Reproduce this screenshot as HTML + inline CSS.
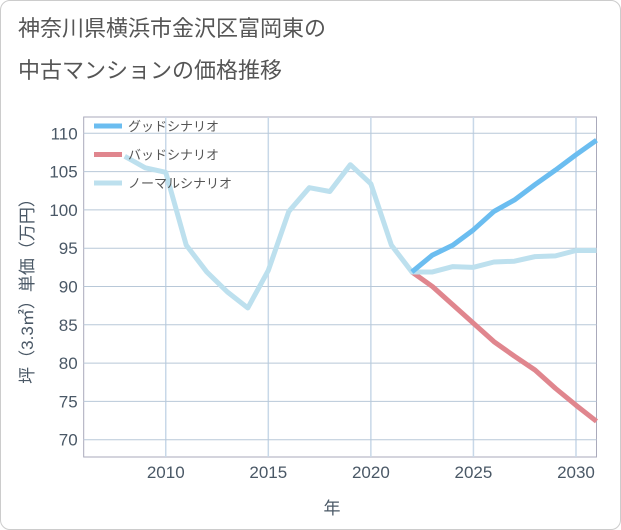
<!DOCTYPE html>
<html><head><meta charset="utf-8"><style>
body{margin:0;background:#fff;font-family:"Liberation Sans","Noto Sans CJK JP",sans-serif;}
#wrap{position:relative;width:619px;height:528px;border:1px solid #ccc;border-radius:10px;overflow:hidden;}
</style></head><body>
<div id="wrap">
<svg id="chart" width="621" height="530" style="position:absolute;left:-1px;top:-1px">
<text x="18" y="36" font-size="22" fill="#555">神奈川県横浜市金沢区富岡東の</text>
<text x="18" y="78" font-size="22" fill="#555">中古マンションの価格推移</text>
<g id="grid"></g><g id="series"></g>
<text x="332" y="514" font-size="17" fill="#4a5866" text-anchor="middle">年</text>
<text transform="translate(33,287) rotate(-90)" font-size="17" fill="#4a5866" text-anchor="middle">坪（3.3㎡）単価（万円）</text>
</svg>
</div>
<script>
const normalYears=[2008,2009,2010,2011,2012,2013,2014,2015,2016,2017,2018,2019,2020,2021,2022,2023,2024,2025,2026,2027,2028,2029,2030,2031];
const normalValues=[107,105.5,104.9,95.4,91.9,89.3,87.2,92.1,99.8,102.9,102.4,105.9,103.4,95.4,91.9,91.9,92.6,92.5,93.2,93.3,93.9,94.0,94.7,94.7];
const forecastYears=[2022,2023,2024,2025,2026,2027,2028,2029,2030,2031];
const goodValues=[91.9,94.1,95.4,97.4,99.8,101.3,103.3,105.2,107.2,109.1];
const badValues=[91.9,90.0,87.6,85.2,82.8,80.9,79.1,76.7,74.5,72.4];
const yTicks=[70,75,80,85,90,95,100,105,110];
const xTicks=[2010,2015,2020,2025,2030];
const X0=83.7,X1=596.5,Y0=117,Y1=457;
const xs=y=>X0+(y-2006)*(X1-X0)/25;
const ys=v=>439.7-(v-70)*(306.4/40);
const NS="http://www.w3.org/2000/svg";
const grid=document.getElementById('grid'),ser=document.getElementById('series');
function mk(tag,at,parent){const e=document.createElementNS(NS,tag);for(const k in at)e.setAttribute(k,at[k]);parent.appendChild(e);return e;}
const box=mk('rect',{x:X0,y:Y0,width:X1-X0,height:Y1-Y0,fill:'none',stroke:'#aab',"stroke-width":1},grid);


for(let yr=2006;yr<=2031;yr++){if(yr%5===0){const l=mk('line',{x1:xs(yr),x2:xs(yr),y1:Y0,y2:Y1,stroke:'#c8d8e8',"stroke-width":1.5},grid);

}}
yTicks.forEach(v=>{const l=mk('line',{x1:X0,x2:X1,y1:ys(v),y2:ys(v),stroke:'#b8c8d8',"stroke-width":1},grid);


const t=mk('text',{x:X0-6,y:ys(v)+6,"text-anchor":"end","font-size":17,fill:'#4a5866'},grid);t.textContent=v;

});
xTicks.forEach(yr=>{const t=mk('text',{x:xs(yr),y:478,"text-anchor":"middle","font-size":17,fill:'#4a5866'},grid);t.textContent=yr;

});
function line(years,vals,color,name){const p=mk('polyline',{points:years.map((y,i)=>xs(y)+','+ys(vals[i])).join(' '),fill:'none',stroke:color,"stroke-width":5,"stroke-linejoin":"round"},ser);

}
line(forecastYears,badValues,'#e0868e','bad-scenario-line');
line(normalYears,normalValues,'#bde0ee','normal-scenario-line');
line(forecastYears,goodValues,'#6bbdf0','good-scenario-line');
const leg=[['グッドシナリオ','#6bbdf0'],['バッドシナリオ','#e0868e'],['ノーマルシナリオ','#bde0ee']];
leg.forEach((e,i)=>{const g=mk('g',{},ser);


mk('line',{x1:94,x2:122,y1:126+i*28.5,y2:126+i*28.5,stroke:e[1],"stroke-width":5},g);
const t=mk('text',{x:128,y:131+i*28.5,"font-size":13,fill:'#555'},g);t.textContent=e[0];});
</script>
</body></html>
